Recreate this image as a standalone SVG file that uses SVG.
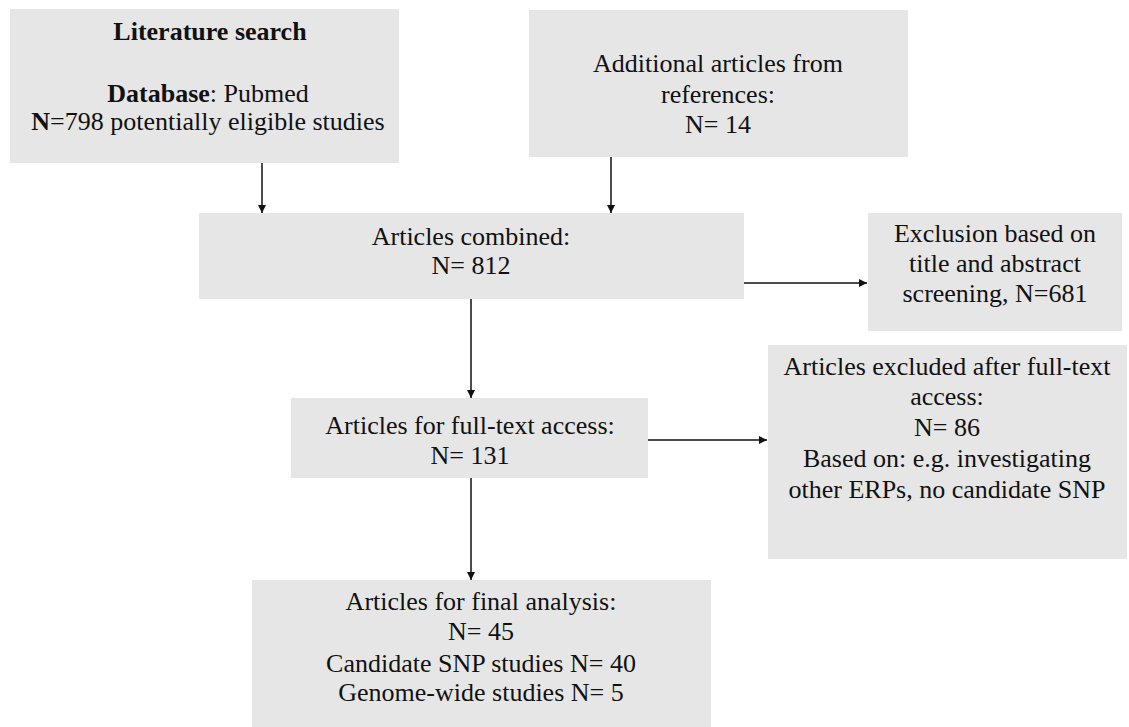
<svg xmlns="http://www.w3.org/2000/svg" width="1129" height="727" viewBox="0 0 1129 727">
<style>
.box{fill:#e6e6e6;stroke:none}
.t{font-size:26px;fill:#111;text-anchor:middle}
.b{font-weight:bold}
.c{stroke:#111;stroke-width:1.5;fill:none;marker-end:url(#ah)}
</style>
<defs>
<marker id="ah" viewBox="0 0 10 10" refX="10" refY="5" markerWidth="8" markerHeight="8" markerUnits="userSpaceOnUse" orient="auto">
<path d="M0,0 L10,5 L0,10 z" fill="#111"/>
</marker>
</defs>
<rect width="1129" height="727" fill="#fff"/>
<g id="connectors">
<line class="c" x1="262" y1="163" x2="262" y2="213"/>
<line class="c" x1="611" y1="157" x2="611" y2="213"/>
<line class="c" x1="744" y1="283" x2="867" y2="283"/>
<line class="c" x1="471" y1="299" x2="471" y2="398"/>
<line class="c" x1="648" y1="440" x2="767" y2="440"/>
<line class="c" x1="471" y1="478" x2="471" y2="580"/>
</g>
<g font-family="Liberation Serif, Times New Roman, serif">
<g id="n1">
<rect class="box" x="10" y="9" width="389" height="154"/>
<text class="t b" x="210" y="40" font-size="25">Literature search</text>
<text class="t" x="208" y="102" font-size="25"><tspan class="b">Database</tspan>: Pubmed</text>
<text class="t" x="208" y="130" font-size="25"><tspan class="b">N</tspan>=798 potentially eligible studies</text>
</g>
<g id="n2">
<rect class="box" x="529" y="10" width="379" height="147"/>
<text class="t" x="718" y="72">Additional articles from</text>
<text class="t" x="718" y="103">references:</text>
<text class="t" x="718" y="133">N= 14</text>
</g>
<g id="n3">
<rect class="box" x="199" y="213" width="545" height="86"/>
<text class="t" x="471" y="245">Articles combined:</text>
<text class="t" x="471" y="274">N= 812</text>
</g>
<g id="n4">
<rect class="box" x="868" y="213" width="254" height="118"/>
<text class="t" x="995" y="242">Exclusion based on</text>
<text class="t" x="995" y="272">title and abstract</text>
<text class="t" x="995" y="302">screening, N=681</text>
</g>
<g id="n5">
<rect class="box" x="291" y="398" width="357" height="80"/>
<text class="t" x="470" y="434">Articles for full-text access:</text>
<text class="t" x="470" y="464">N= 131</text>
</g>
<g id="n6">
<rect class="box" x="768" y="345" width="359" height="214"/>
<text class="t" x="947" y="375">Articles excluded after full-text</text>
<text class="t" x="947" y="405">access:</text>
<text class="t" x="947" y="436">N= 86</text>
<text class="t" x="947" y="467">Based on: e.g. investigating</text>
<text class="t" x="947" y="498">other ERPs, no candidate SNP</text>
</g>
<g id="n7">
<rect class="box" x="252" y="580" width="459" height="147"/>
<text class="t" x="481" y="610">Articles for final analysis:</text>
<text class="t" x="481" y="640">N= 45</text>
<text class="t" x="481" y="672">Candidate SNP studies N= 40</text>
<text class="t" x="481" y="701">Genome-wide studies N= 5</text>
</g>
</g>
</svg>
